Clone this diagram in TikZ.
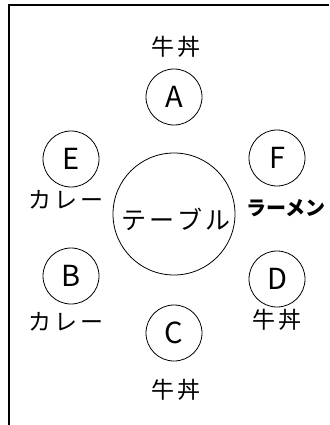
\documentclass[tikz,border=0pt]{standalone}
\usepackage{fontspec}
\setmainfont{Noto Sans CJK JP}
\newfontfamily\jpwide[LetterSpace=15]{Noto Sans CJK JP}
\usetikzlibrary{positioning}

\begin{document}
\begin{tikzpicture}[
    x=1pt, y=-1pt,
    seat/.style={circle, draw, line width=0.8pt, minimum size=56pt, inner sep=0pt, font=\fontsize{29}{29}\selectfont},
    table/.style={circle, draw, line width=0.8pt, minimum size=122pt, inner sep=0pt},
    dish/.style={inner sep=0pt, font=\jpwide\fontsize{23}{23}\selectfont},
    bold dish/.style={inner sep=0pt, font=\bfseries\fontsize{20}{20}\selectfont}
]
  \useasboundingbox (0,0) rectangle (329,425);
  % frame
  \draw[line width=2pt] (9,425) -- (9,5) -- (329,5);

  \node[table] (tbl) at (174,214) {};
  \node[dish, font=\jpwide\fontsize{25}{25}\selectfont] (tblname) at (176,219) {テーブル};

  \node[seat] (a) at (174,97) {A};
  \node[seat] (e) at (71,159) {E};
  \node[seat] (f) at (277,158) {F};
  \node[seat] (b) at (71,276) {B};
  \node[seat] (d) at (277,279) {D};
  \node[seat] (c) at (174,333) {C};

  \node[dish] (dishA) at (176,47) {牛丼};
  \node[dish] (dishE) at (66,200) {カレー};
  \node[bold dish] (dishF) at (286,208) {ラーメン};
  \node[dish] (dishB) at (66,322) {カレー};
  \node[dish] (dishD) at (277,320) {牛丼};
  \node[dish] (dishC) at (176,390) {牛丼};
\end{tikzpicture}
\end{document}
